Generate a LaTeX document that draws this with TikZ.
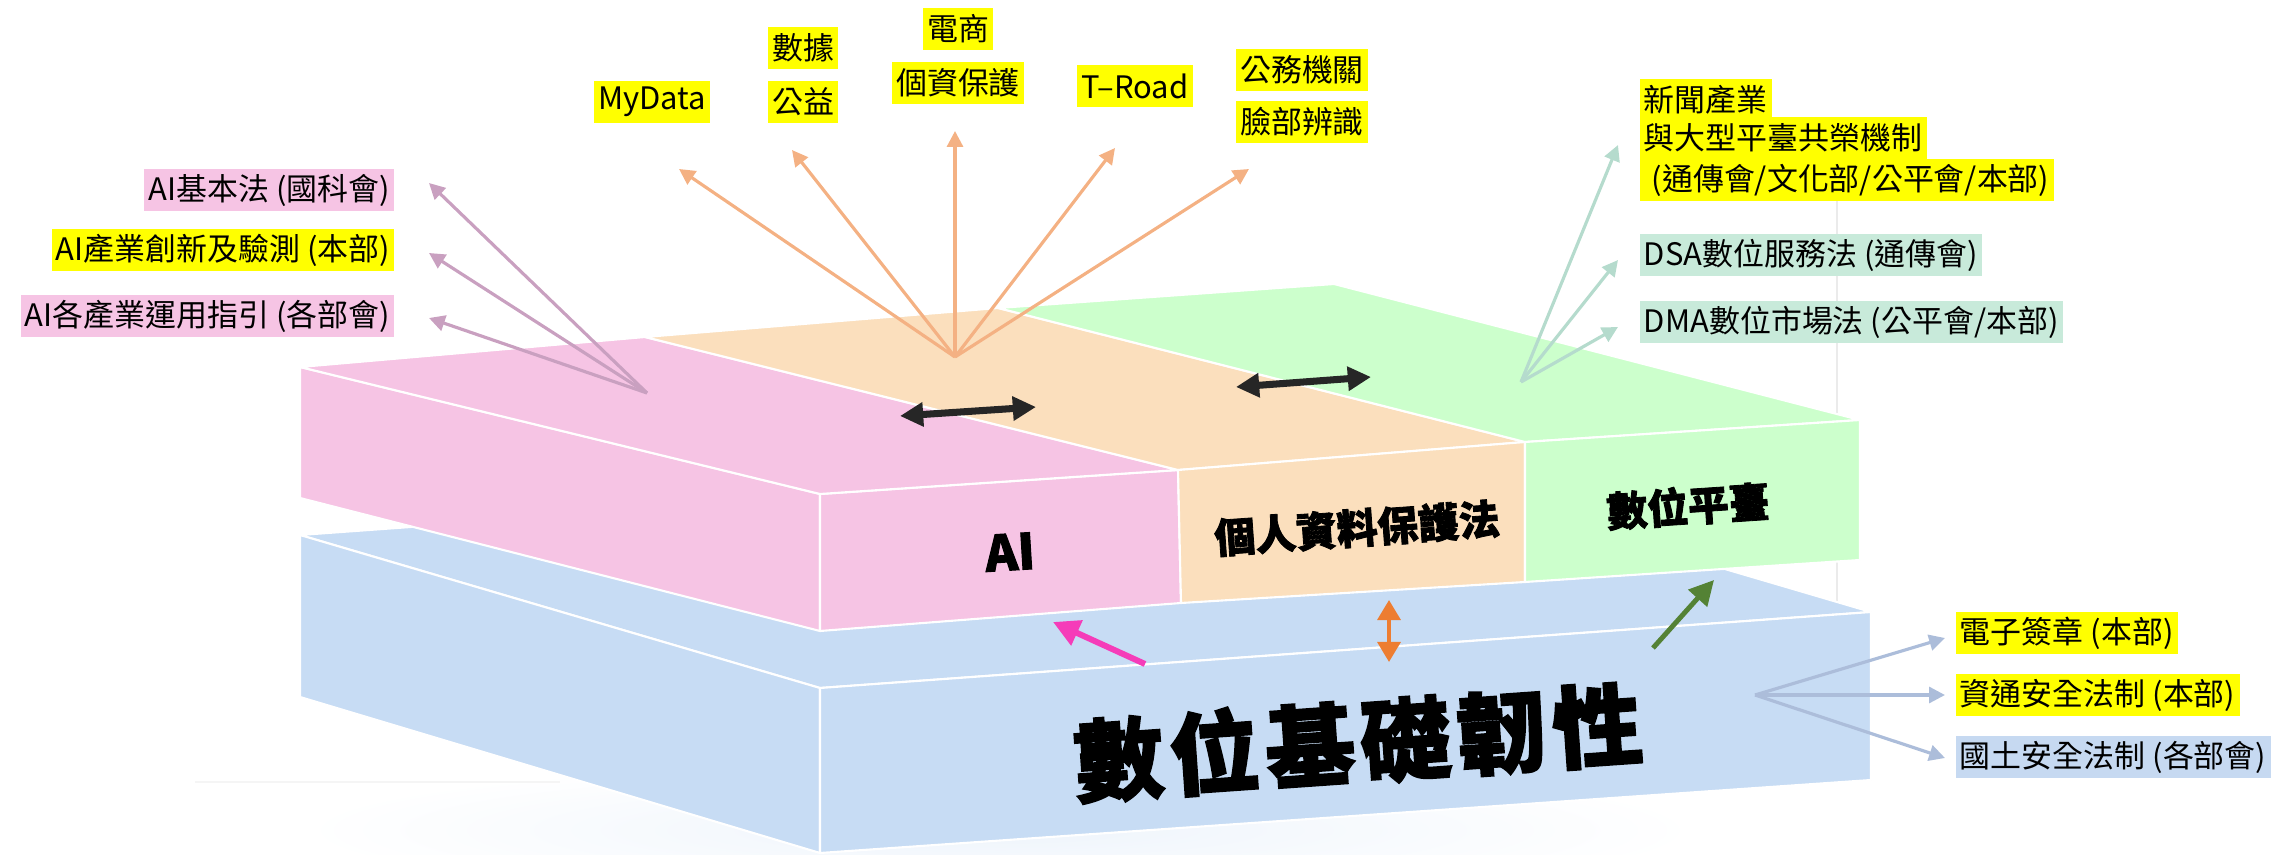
\documentclass[tikz,border=0pt]{standalone}
\usepackage{fontspec}
\usepackage{tikz}
\usetikzlibrary{arrows.meta}

\newfontfamily\cjk{Noto Sans CJK TC}
\newfontfamily\cjkheavy{Noto Sans CJK TC}[BoldFeatures={FakeBold=2}]

\definecolor{pinkface}{RGB}{246,196,228}
\definecolor{orangeface}{RGB}{251,223,189}
\definecolor{greenface}{RGB}{204,255,204}
\definecolor{blueface}{RGB}{199,220,244}
\definecolor{hlyellow}{RGB}{255,255,0}
\definecolor{hlteal}{RGB}{200,234,218}
\definecolor{hlblue}{RGB}{198,217,241}
\definecolor{fanpinkc}{RGB}{201,160,192}
\definecolor{fanorangec}{RGB}{244,177,131}
\definecolor{fantealc}{RGB}{181,219,205}
\definecolor{fanbluec}{RGB}{172,189,218}
\definecolor{arrowpink}{RGB}{245,60,185}
\definecolor{arrowgreen}{RGB}{84,130,53}
\definecolor{arroworange}{RGB}{237,125,49}
\definecolor{arrowblack}{RGB}{38,38,38}

\begin{document}
\begin{tikzpicture}[x=0.01cm, y=-0.01cm,
	lbl/.style={inner xsep=1.2pt, inner ysep=0pt, minimum height=12pt, font=\cjk\fontsize{8.8}{10}\selectfont},
	face/.style={draw=white, line width=0.6pt, line join=round},
	fan/.style={-{Triangle[length=4.5pt,width=4.5pt]}, line width=0.9pt},
	dbl/.style={{Triangle[length=6.6pt,width=6.6pt]}-{Triangle[length=6.6pt,width=6.6pt]}, line width=2pt, arrowblack},
	blocktext/.style={font=\cjkheavy\bfseries\fontsize{11.6}{12}\selectfont}
	]

	\useasboundingbox (0,0) rectangle (2275,855);

	% soft shadow and faint guide lines
	\shade[inner color=blueface!30, outer color=white] (1000,830) ellipse (700 and 70);
	\draw[black!4, line width=0.4pt] (195,782) -- (560,782);
	\draw[black!8, line width=0.4pt] (1837,190) -- (1837,610);

	% base slab
	\filldraw[face, fill=blueface] (300,535) -- (1351,459) -- (1871,612) -- (820,688) -- cycle;
	\filldraw[face, fill=blueface] (300,535) -- (820,688) -- (820,853) -- (300,697) -- cycle;
	\filldraw[face, fill=blueface] (820,688) -- (1871,612) -- (1871,780) -- (820,853) -- cycle;

	% AI block
	\filldraw[face, fill=pinkface] (300,367) -- (820,494) -- (820,631) -- (300,498) -- cycle;
	\filldraw[face, fill=pinkface] (820,494) -- (1178,470) -- (1181,603) -- (820,631) -- cycle;
	\filldraw[face, fill=pinkface] (300,367) -- (645,337) -- (1178,470) -- (820,494) -- cycle;

	% personal data block
	\filldraw[face, fill=orangeface] (645,337) -- (998,308) -- (1525,442) -- (1178,470) -- cycle;
	\filldraw[face, fill=orangeface] (1178,470) -- (1525,442) -- (1525,582) -- (1181,603) -- cycle;

	% platform block
	\filldraw[face, fill=greenface] (998,308) -- (1334,284) -- (1860,420) -- (1525,442) -- cycle;
	\filldraw[face, fill=greenface] (1525,442) -- (1860,420) -- (1860,560) -- (1525,582) -- cycle;

	\node[blocktext, font=\cjkheavy\bfseries\fontsize{14}{14}\selectfont, rotate=3.5] (ailbl) at (1010,552) {AI};
	\node[blocktext, rotate=4] (pdpalbl) at (1357,528) {個人資料保護法};
	\node[blocktext, rotate=3.8] (platlbl) at (1688,506) {數位平臺};
	\node[font=\cjkheavy\bfseries\fontsize{25.5}{26}\selectfont\addfontfeature{LetterSpace=7}, rotate=4] (baselbl) at (1358,742) {數位基礎韌性};

	% labels
	\node[lbl, fill=pinkface, anchor=east] (aibasic) at (395,190) {AI基本法 (國科會)};
	\node[lbl, fill=hlyellow, anchor=east] (aiindustry) at (395,250) {AI產業創新及驗測 (本部)};
	\node[lbl, fill=pinkface, anchor=east] (aiguide) at (395,316) {AI各產業運用指引 (各部會)};

	\node[lbl, fill=hlyellow] (mydata) at (652,102) {MyData};
	\node[lbl, fill=hlyellow] (datashu) at (803,48) {數據};
	\node[lbl, fill=hlyellow] (datagong) at (803,102) {公益};
	\node[lbl, fill=hlyellow] (ecom) at (958,29) {電商};
	\node[lbl, fill=hlyellow] (pdp) at (958,83) {個資保護};
	\node[lbl, fill=hlyellow] (troad) at (1135,86) {T–Road};
	\node[lbl, fill=hlyellow] (govagency) at (1302,70) {公務機關};
	\node[lbl, fill=hlyellow] (facerec) at (1302,122) {臉部辨識};

	\node[lbl, fill=hlyellow, anchor=west] (newsa) at (1639,100) {新聞產業};
	\node[lbl, fill=hlyellow, anchor=west] (newsb) at (1639,138) {與大型平臺共榮機制};
	\node[lbl, fill=hlyellow, anchor=west] (newsc) at (1639,180) {\hspace{0.25em}(通傳會/文化部/公平會/本部)};
	\node[lbl, fill=hlteal, anchor=west] (dsa) at (1639,255) {DSA數位服務法 (通傳會)};
	\node[lbl, fill=hlteal, anchor=west] (dma) at (1639,322) {DMA數位市場法 (公平會/本部)};

	\node[lbl, fill=hlyellow, anchor=west] (esign) at (1955,633) {電子簽章 (本部)};
	\node[lbl, fill=hlyellow, anchor=west] (cybersec) at (1955,695) {資通安全法制 (本部)};
	\node[lbl, fill=hlblue, anchor=west] (homeland) at (1955,757) {國土安全法制 (各部會)};

	% fan hubs and tips
	\coordinate (pinkhub) at (647,393);
	\coordinate (pinktipa) at (429,183);
	\coordinate (pinktipb) at (429,253);
	\coordinate (pinktipc) at (429,318);

	\coordinate (orangehub) at (955,357);
	\coordinate (orangetipa) at (679,169);
	\coordinate (orangetipb) at (792,150);
	\coordinate (orangetipc) at (955,131);
	\coordinate (orangetipd) at (1115,148);
	\coordinate (orangetipe) at (1249,169);

	\coordinate (tealhub) at (1521,382);
	\coordinate (tealtipa) at (1618,145);
	\coordinate (tealtipb) at (1618,260);
	\coordinate (tealtipc) at (1618,327);

	\coordinate (bluehub) at (1755,695);
	\coordinate (bluetipa) at (1945,638);
	\coordinate (bluetipb) at (1945,695);
	\coordinate (bluetipc) at (1945,758);

	\path[fan, fanpinkc] (pinkhub) edge (pinktipa);
	\path[fan, fanpinkc] (pinkhub) edge (pinktipb);
	\path[fan, fanpinkc] (pinkhub) edge (pinktipc);

	\path[fan, fanorangec] (orangehub) edge (orangetipa);
	\path[fan, fanorangec] (orangehub) edge (orangetipb);
	\path[fan, fanorangec] (orangehub) edge (orangetipc);
	\path[fan, fanorangec] (orangehub) edge (orangetipd);
	\path[fan, fanorangec] (orangehub) edge (orangetipe);

	\path[fan, fantealc] (tealhub) edge (tealtipa);
	\path[fan, fantealc] (tealhub) edge (tealtipb);
	\path[fan, fantealc] (tealhub) edge (tealtipc);

	\path[fan, fanbluec] (bluehub) edge (bluetipa);
	\path[fan, fanbluec] (bluehub) edge (bluetipb);
	\path[fan, fanbluec] (bluehub) edge (bluetipc);

	% links between layers
	\coordinate (linkas) at (900,416);
	\coordinate (linkae) at (1036,407);
	\coordinate (linkbs) at (1236,387);
	\coordinate (linkbe) at (1371,377);
	\path[dbl] (linkas) edge (linkae);
	\path[dbl] (linkbs) edge (linkbe);

	\coordinate (upbase) at (1389,600);
	\coordinate (downbase) at (1389,662);
	\path[{Triangle[length=5.7pt,width=6.5pt]}-{Triangle[length=5.7pt,width=6.5pt]}, line width=1.1pt, arroworange] (upbase) edge (downbase);

	\coordinate (pinkfrom) at (1145,664);
	\coordinate (pinkto) at (1053,622);
	\path[-{Triangle[length=7.5pt,width=7.5pt]}, line width=1.7pt, arrowpink] (pinkfrom) edge (pinkto);

	\coordinate (greenfrom) at (1653,648);
	\coordinate (greento) at (1714,580);
	\path[-{Triangle[length=7pt,width=7pt]}, line width=1.4pt, arrowgreen] (greenfrom) edge (greento);

\end{tikzpicture}
\end{document}
